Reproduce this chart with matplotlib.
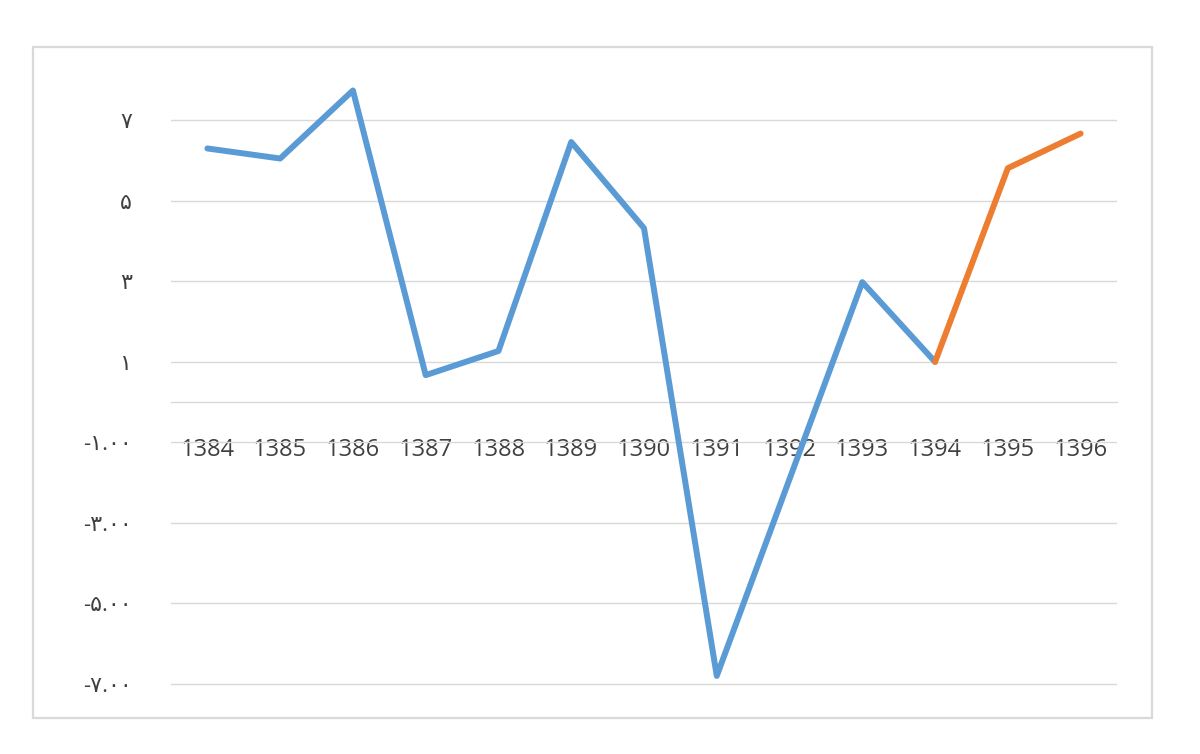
import matplotlib
matplotlib.use('Agg')
import matplotlib.pyplot as plt
from matplotlib.patches import Rectangle

# Données
annees = ["1384", "1385", "1386", "1387", "1388", "1389", "1390",
          "1391", "1392", "1393", "1394", "1395", "1396"]
reel = [6.30, 6.05, 7.74, 0.67, 1.27, 6.46, 4.32, -6.80, -1.91, 2.98, 1.00]
prevision = [1.00, 5.81, 6.67]

y_ticks = [-7, -5, -3, -1, 1, 3, 5, 7]
y_labels = ["-۷.۰۰", "-۵.۰۰", "-۳.۰۰", "-۱.۰۰", "۱", "۳", "۵", "۷"]

bleu = "#5B9BD5"
orange = "#ED7D31"
gris = "#D9D9D9"
texte = "#404040"

fig = plt.figure(figsize=(12, 7.54), dpi=100)
fig.patch.set_facecolor("white")

# Cadre extérieur du graphique
fig.patches.append(Rectangle((33 / 1200, 1 - 718 / 754), 1119 / 1200, 671 / 754,
                             transform=fig.transFigure, fill=False,
                             edgecolor=gris, linewidth=1.6))

# 40.3 px par unité : -7.1 -> 688 px, 8 -> 80 px
ax = fig.add_axes([171 / 1200, 1 - 688 / 754, 946 / 1200, 608 / 754])

# position de l'axe avant les ticks (set_position réinitialise les ticks)
ax.spines["bottom"].set_position(("data", 0))
ax.spines["bottom"].set_color(gris)
ax.spines["bottom"].set_linewidth(1.0)
for s in ["top", "right", "left"]:
    ax.spines[s].set_visible(False)

x_reel = list(range(len(reel)))
x_prev = list(range(len(reel) - 1, len(reel) - 1 + len(prevision)))

ax.plot(x_reel, reel, color=bleu, linewidth=4.3, solid_capstyle="round",
        solid_joinstyle="round", clip_on=False, zorder=3)
ax.plot(x_prev, prevision, color=orange, linewidth=4.3, solid_capstyle="round",
        solid_joinstyle="round", clip_on=False, zorder=4)

ax.set_xlim(-0.5, len(annees) - 0.5)
ax.set_ylim(-7.1, 8)

ax.set_yticks(y_ticks)
ax.set_yticklabels(y_labels, family=["Open Sans", "DejaVu Sans"], fontsize=16, color=texte)
ax.yaxis.grid(True, color=gris, linewidth=1.0)
ax.set_axisbelow(True)

ax.set_xticks(range(len(annees)))
ax.set_xticklabels(annees, family="Open Sans", fontsize=17, color=texte)
ax.tick_params(axis="x", length=0, pad=26)
ax.tick_params(axis="y", length=0, pad=28)

fig.savefig("out.png", dpi=100, facecolor="white")
